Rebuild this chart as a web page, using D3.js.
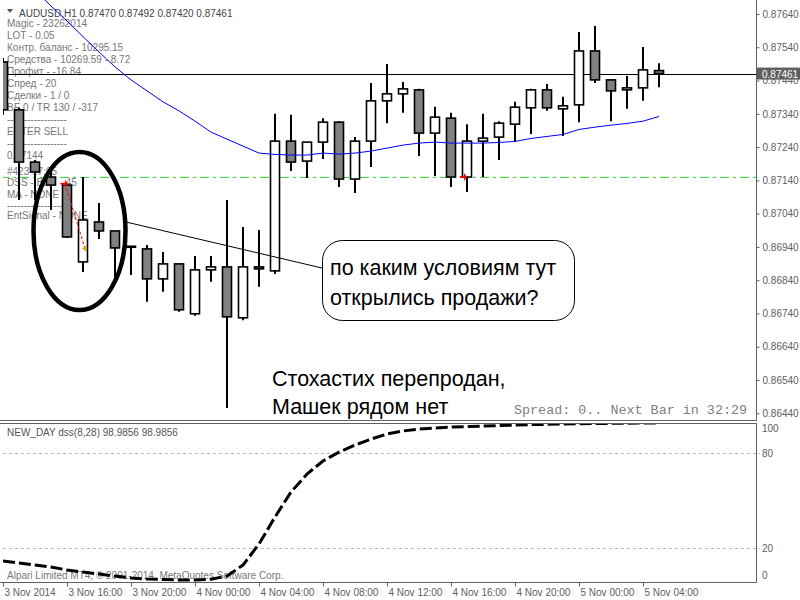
<!DOCTYPE html>
<html>
<head>
<meta charset="utf-8">
<script src="https://cdn.jsdelivr.net/npm/d3@7"></script>
<style>
  body { margin: 0; background: #fff; }
  svg { display: block; }
</style>
</head>
<body>
<div id="chart"></div>
<script>
// AUDUSD H1, bars from 3 Nov 12:00 to 5 Nov 05:00
const barOpen  = [0.87496,0.87352,0.87195,0.87150,0.87126,0.86895,0.87015,0.86988,0.86941,0.86934,
                  0.86844,0.86889,0.86739,0.86871,0.86880,0.86727,0.86880,0.86868,0.87258,0.87198,
                  0.87255,0.87315,0.87144,0.87258,0.87379,0.87400,0.87412,0.87282,0.87327,0.87150,
                  0.87258,0.87270,0.87309,0.87358,0.87412,0.87355,0.87367,0.87529,0.87442,0.87412,
                  0.87418,0.87470];
const barHigh  = [0.87508,0.87358,0.87201,0.87171,0.87129,0.87150,0.87072,0.86988,0.86942,0.86946,
                  0.86925,0.86892,0.86913,0.86913,0.87081,0.87000,0.86991,0.87340,0.87337,0.87255,
                  0.87327,0.87318,0.87270,0.87433,0.87490,0.87436,0.87415,0.87361,0.87343,0.87309,
                  0.87340,0.87318,0.87376,0.87415,0.87430,0.87391,0.87586,0.87604,0.87445,0.87454,
                  0.87541,0.87492];
const barLow   = [0.87337,0.87081,0.87081,0.87051,0.86967,0.86865,0.86964,0.86844,0.86856,0.86775,
                  0.86805,0.86745,0.86733,0.86835,0.86456,0.86720,0.86820,0.86859,0.87168,0.87147,
                  0.87204,0.87120,0.87102,0.87180,0.87312,0.87343,0.87213,0.87153,0.87120,0.87105,
                  0.87150,0.87201,0.87255,0.87279,0.87349,0.87273,0.87315,0.87433,0.87318,0.87355,
                  0.87379,0.87420];
const barClose = [0.87352,0.87195,0.87165,0.87126,0.86970,0.87021,0.86988,0.86937,0.86942,0.86844,
                  0.86889,0.86751,0.86871,0.86880,0.86730,0.86880,0.86874,0.87258,0.87195,0.87255,
                  0.87315,0.87144,0.87258,0.87379,0.87400,0.87415,0.87282,0.87330,0.87150,0.87258,
                  0.87267,0.87312,0.87360,0.87412,0.87358,0.87364,0.87529,0.87442,0.87409,0.87418,
                  0.87472,0.87461];
const maValues = [0.87811,0.87763,0.87712,0.87664,0.87619,0.87572,0.87526,0.87481,0.87442,0.87409,
                  0.87376,0.87349,0.87318,0.87285,0.87264,0.87243,0.87222,0.87218,0.87216,0.87216,
                  0.87222,0.87219,0.87222,0.87228,0.87237,0.87246,0.87252,0.87255,0.87252,0.87252,
                  0.87252,0.87254,0.87257,0.87266,0.87272,0.87278,0.87293,0.87300,0.87306,0.87311,
                  0.87318,0.87332];
const dssValues = [12.0,10.7,9.4,8.2,6.3,5.0,3.8,2.5,1.3,0.6,
                   0.3,0.0,0.0,0.5,2.5,9.4,22.7,39.7,55.4,66.8,
                   75.0,80.6,85.0,88.8,92.0,93.9,95.1,95.7,96.4,96.7,
                   97.0,97.3,97.6,97.9,98.1,98.3,98.5,98.6,98.7,98.8,
                   98.9,98.9856];
const priceTicks = [0.87640,0.87540,0.87440,0.87340,0.87240,0.87140,0.87040,
                    0.86940,0.86840,0.86740,0.86640,0.86540,0.86440];
const timeTickBars = [0,4,8,12,16,20,24,28,32,36,40];
const timeTickLabels = ['3 Nov 2014','3 Nov 16:00','3 Nov 20:00','4 Nov 00:00','4 Nov 04:00',
                        '4 Nov 08:00','4 Nov 12:00','4 Nov 16:00','4 Nov 20:00','5 Nov 00:00','5 Nov 04:00'];
const dssLevels = [80, 20];
const dssLabels = [100, 80, 20, 0];
const bidPrice = 0.87461;
const entryLevel = 0.87149;
const tradeOpen = {bar: 4, price: 0.87130};
const tradeClose = {bar: 5, price: 0.86936};
const sellMark = {bar: 29, price: 0.87150};
const infoLines = ['Magic - 23262014','LOT - 0.05','Контр. баланс - 10295.15','Средства - 10269.59 - 8.72',
                   'Профит - -16.84','Спред - 20','Сделки - 1 / 0','BE 0 / TR 130 / -317',
                   '------------------','ENTER SELL','------------------','0.87144',
                   '#423 17:05','DSS - BUY - 45','MA - NONE','------------------','EntSignal - NONE'];

const W = 800, H = 600;
const svg = d3.select('#chart').append('svg').attr('width', W).attr('height', H)
  .style('font-family', 'Liberation Sans, Arial, sans-serif');
svg.append('rect').attr('width', W).attr('height', H).attr('fill', '#fff');

const x = d3.scaleLinear().domain([0, 1]).range([3, 19]);
const y = d3.scaleLinear().domain([0.86440, 0.87640]).range([413.3, 14]);
const ySub = d3.scaleLinear().domain([0, 100]).range([580, 421.3]);

const defs = svg.append('defs');
defs.append('clipPath').attr('id', 'mainClip').append('rect')
  .attr('x', 3).attr('y', 0).attr('width', 753).attr('height', 420);
defs.append('clipPath').attr('id', 'subClip').append('rect')
  .attr('x', 3).attr('y', 424).attr('width', 753).attr('height', 158);

// info labels (under the chart)
const info = svg.append('g').attr('font-size', 10).attr('fill', '#777');
info.selectAll('text').data(infoLines).enter().append('text')
  .attr('x', 7).attr('y', (d, i) => i < 12 ? 27 + i * 12 : 175 + (i - 12) * 10.5 + (i > 13 ? 2 : 0))
  .text(d => d);
svg.append('path').attr('d', 'M7,9 L13,9 L10,13 Z').attr('fill', '#555');
svg.append('text').attr('x', 19).attr('y', 17).attr('font-size', 10).attr('fill', '#444')
  .text('AUDUSD,H1  0.87470 0.87492 0.87420 0.87461');

const main = svg.append('g').attr('clip-path', 'url(#mainClip)');

main.append('line').attr('x1', 0).attr('x2', 756).attr('y1', y(entryLevel)).attr('y2', y(entryLevel))
  .attr('stroke', '#32cd32').attr('stroke-width', 1).attr('stroke-dasharray', '9,4,3,4');
main.append('line').attr('x1', 0).attr('x2', 756).attr('y1', Math.round(y(bidPrice)) + 0.5).attr('y2', Math.round(y(bidPrice)) + 0.5)
  .attr('stroke', '#000').attr('stroke-width', 1);

// candles
const bars = d3.range(barOpen.length);
const candle = main.selectAll('g.candle').data(bars).enter().append('g');
candle.append('line')
  .attr('x1', i => x(i)).attr('x2', i => x(i))
  .attr('y1', i => y(barHigh[i])).attr('y2', i => y(barLow[i]))
  .attr('stroke', '#000').attr('stroke-width', 2);
candle.append('rect')
  .attr('x', i => x(i) - 4.5).attr('width', 9)
  .attr('y', i => y(Math.max(barOpen[i], barClose[i])))
  .attr('height', i => Math.max(1, Math.abs(y(barOpen[i]) - y(barClose[i]))))
  .attr('fill', i => barClose[i] < barOpen[i] ? '#808080' : '#fff')
  .attr('stroke', '#000').attr('stroke-width', 1.6);

// moving average
main.append('path').datum(maValues)
  .attr('d', d3.line().x((d, i) => x(i)).y(d => y(d)))
  .attr('fill', 'none').attr('stroke', '#0000ff').attr('stroke-width', 1);

// trade marks
main.append('line')
  .attr('x1', x(tradeOpen.bar) - 2).attr('y1', y(tradeOpen.price))
  .attr('x2', x(tradeClose.bar) + 2).attr('y2', y(tradeClose.price))
  .attr('stroke', '#ff0000').attr('stroke-width', 1).attr('stroke-dasharray', '3,2');
function sellArrow(cx, cy) {
  main.append('path')
    .attr('d', `M${cx - 4},${cy - 1} L${cx},${cy - 1} L${cx},${cy - 4} L${cx + 3},${cy} L${cx},${cy + 4} L${cx},${cy + 1} L${cx - 4},${cy + 1} Z`)
    .attr('fill', '#ff0000');
}
sellArrow(x(tradeOpen.bar) - 2, y(tradeOpen.price));
sellArrow(x(sellMark.bar) - 3, y(sellMark.price));
const cx2 = x(tradeClose.bar) + 2, cy2 = y(tradeClose.price);
main.append('path').attr('d', `M${cx2 - 3},${cy2} L${cx2 + 2},${cy2 - 3} L${cx2 + 2},${cy2 + 4} Z`)
  .attr('fill', '#daa520');

// price axis
const yAxis = svg.append('g').attr('transform', 'translate(756.5,0)')
  .call(d3.axisRight(y).tickValues(priceTicks).tickFormat(d3.format('.5f')).tickSize(3).tickSizeOuter(0));
yAxis.select('.domain').remove();
yAxis.selectAll('line').attr('stroke', '#606060');
yAxis.selectAll('text').attr('font-family', 'Liberation Sans, Arial, sans-serif').attr('font-size', 10)
  .attr('fill', '#606060').attr('x', 6);

// bid label
svg.append('rect').attr('x', 757).attr('y', y(bidPrice) - 6).attr('width', 43).attr('height', 12).attr('fill', '#5f5f5f');
svg.append('text').attr('x', 762).attr('y', y(bidPrice) + 4).attr('font-size', 10).attr('fill', '#fff')
  .text(d3.format('.5f')(bidPrice));

// frames
const frame = svg.append('g').attr('stroke', '#606060').attr('stroke-width', 1).attr('fill', 'none');
frame.append('path').attr('d', 'M756.5,0 V420.5 H0');
frame.append('path').attr('d', 'M0,423.5 H756.5 V582.5 H0');

// sub window
svg.append('text').attr('x', 7).attr('y', 436).attr('font-size', 10).attr('fill', '#555')
  .text('NEW_DAY dss(8,28) 98.9856 98.9856');
svg.append('text').attr('x', 7).attr('y', 579).attr('font-size', 10).attr('fill', '#777')
  .text('Alpari Limited MT4, © 2001-2014, MetaQuotes Software Corp.');
const sub = svg.append('g');
sub.selectAll('line.lvl').data(dssLevels).enter().append('line')
  .attr('x1', 3).attr('x2', 760).attr('y1', d => Math.round(ySub(d)) + 0.5).attr('y2', d => Math.round(ySub(d)) + 0.5)
  .attr('stroke', '#b8b8b8').attr('stroke-dasharray', '3,3');
sub.selectAll('text').data(dssLabels).enter().append('text')
  .attr('x', 762).attr('y', d => Math.min(Math.max(ySub(d), 428), 575) + 4)
  .attr('font-size', 10).attr('fill', '#606060').text(d => d);
sub.append('path').datum(dssValues).attr('clip-path', 'url(#subClip)')
  .attr('d', d3.line().x((d, i) => x(i)).y(d => ySub(d)))
  .attr('fill', 'none').attr('stroke', '#000').attr('stroke-width', 3).attr('stroke-dasharray', '12,4');

// time axis
const xAxis = svg.append('g').attr('transform', 'translate(0,582.5)')
  .call(d3.axisBottom(x).tickValues(timeTickBars).tickFormat((d, i) => timeTickLabels[i]).tickSize(4).tickSizeOuter(0));
xAxis.select('.domain').remove();
xAxis.selectAll('line').attr('stroke', '#606060');
xAxis.selectAll('text').attr('font-family', 'Liberation Sans, Arial, sans-serif').attr('font-size', 10)
  .attr('fill', '#606060').attr('text-anchor', 'start').attr('dx', 1).attr('y', 6).attr('dy', '0.75em');

// annotations
const note = svg.append('g');
note.append('ellipse').attr('cx', 79.5).attr('cy', 231).attr('rx', 46).attr('ry', 79)
  .attr('fill', 'none').attr('stroke', '#000').attr('stroke-width', 4.5);
note.append('line').attr('x1', 126).attr('y1', 222).attr('x2', 322).attr('y2', 268)
  .attr('stroke', '#000').attr('stroke-width', 1);
note.append('rect').attr('x', 322.5).attr('y', 240.5).attr('width', 252).attr('height', 80).attr('rx', 20)
  .attr('fill', '#fff').attr('stroke', '#000').attr('stroke-width', 1);
const big = note.append('g').attr('font-size', 21.5).attr('fill', '#000');
big.append('text').attr('x', 330).attr('y', 275).text('по каким условиям тут');
big.append('text').attr('x', 330).attr('y', 305).text('открылись продажи?');
big.append('text').attr('x', 272).attr('y', 386).text('Стохастих перепродан,');
big.append('text').attr('x', 272).attr('y', 414).text('Машек рядом нет');
note.append('text').attr('x', 514).attr('y', 414).attr('font-family', 'Liberation Mono, monospace')
  .attr('font-size', 13.4).attr('fill', '#808080').text('Spread: 0.. Next Bar in 32:29');
</script>
</body>
</html>
